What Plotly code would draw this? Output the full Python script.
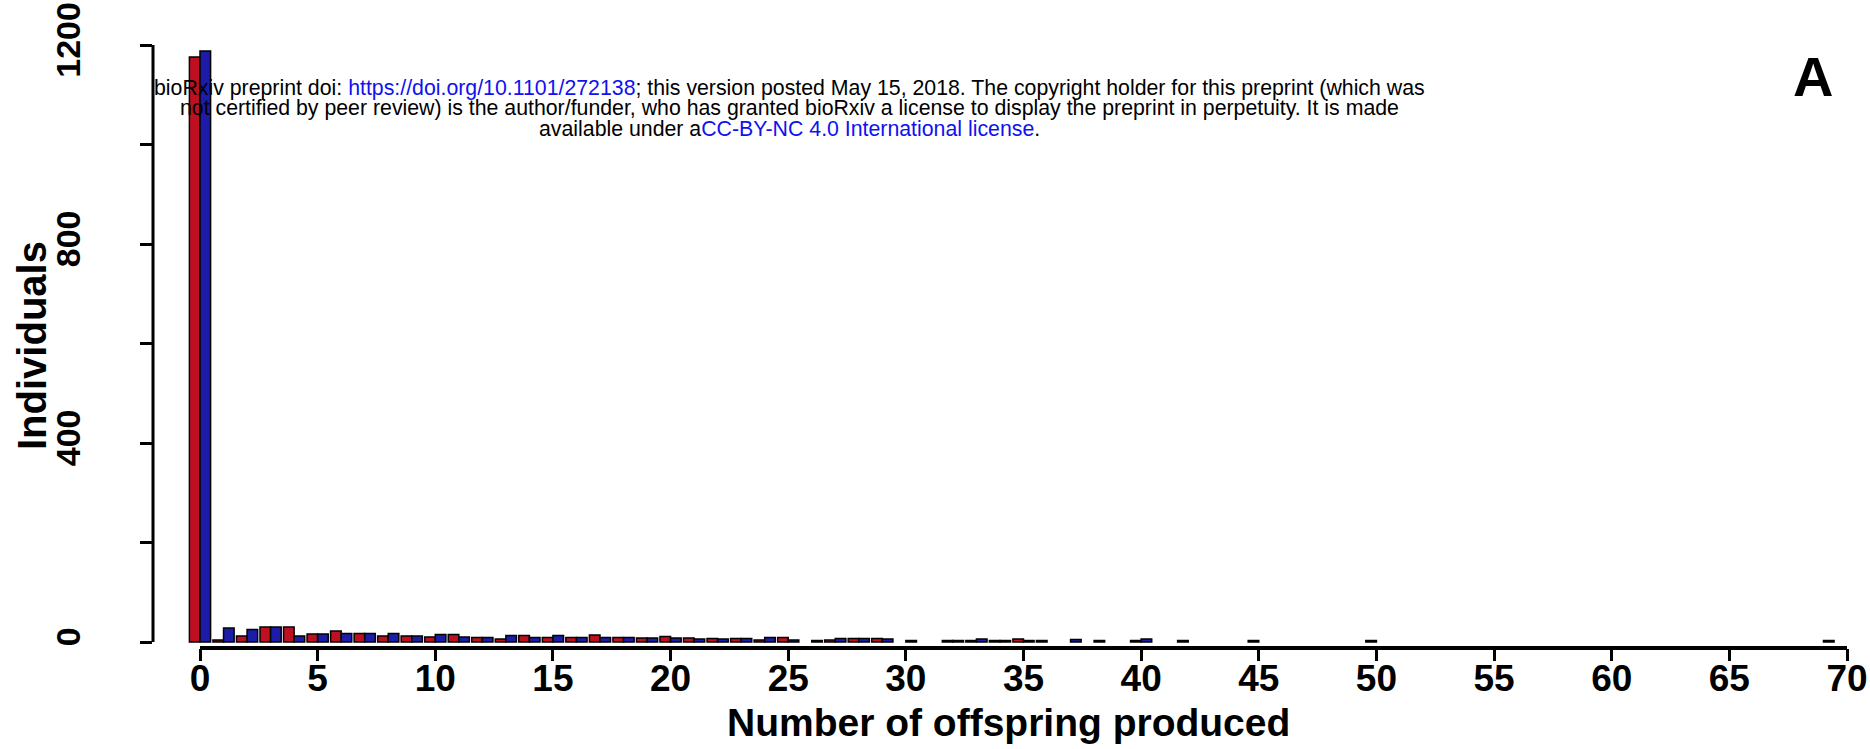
import plotly.graph_objects as go

# ---- data ----
offspring = list(range(71))
red_counts = [1176, 4, 12, 30, 30, 16, 22, 17, 12, 12,
              10, 15, 9, 6, 13, 9, 9, 14, 9, 8,
              11, 8, 7, 7, 4, 9, 0, 4, 7, 7,
              0, 0, 3, 3, 3, 6, 3, 0, 0, 0,
              3, 0, 3, 0, 0, 3, 0, 0, 0, 0,
              3, 0, 0, 0, 0, 0, 0, 0, 0, 0,
              0, 0, 0, 0, 0, 0, 0, 0, 0, 0, 0]
blue_counts = [1188, 28, 25, 30, 12, 16, 17, 17, 17, 12,
               15, 10, 9, 13, 9, 13, 9, 9, 9, 8,
               8, 6, 6, 7, 9, 4, 3, 7, 7, 6,
               3, 0, 3, 6, 3, 3, 0, 5, 3, 0,
               6, 0, 0, 0, 0, 0, 0, 0, 0, 0,
               0, 0, 0, 0, 0, 0, 0, 0, 0, 0,
               0, 0, 0, 0, 0, 0, 0, 0, 0, 3, 0]
x_tickvals = list(range(0, 71, 5))
y_tickvals = [0, 200, 400, 600, 800, 1000, 1200]
y_ticktext = ["0", "", "400", "", "800", "", "1200"]

RED = "#BE1020"
BLUE = "#1C1CA8"

# ---- geometry ----
W, H = 1870, 749
L, R_EDGE, T, B = 153, 1860, 42, 648
X0_PX, X70_PX = 200, 1847
ux = (X70_PX - X0_PX) / 70.0
Y0_PX, Y1200_PX = 642, 45
uy = (Y0_PX - Y1200_PX) / 1200.0
x_range = [(L - X0_PX) / ux, (R_EDGE - X0_PX) / ux]
y_range = [-(B - Y0_PX) / uy, 1200 + (Y1200_PX - T) / uy]

FONT = "Liberation Sans, Arial, Helvetica, sans-serif"


def px_x(p):
    return (p - L) / (R_EDGE - L)


def px_y(p):
    return (B - p) / (B - T)


def nz(v):
    return [c if c > 0 else None for c in v]


fig = go.Figure()
fig.add_trace(go.Bar(x=offspring, y=nz(red_counts), name="red",
                     marker=dict(color=RED, line=dict(color="black", width=1.5))))
fig.add_trace(go.Bar(x=offspring, y=nz(blue_counts), name="blue",
                     marker=dict(color=BLUE, line=dict(color="black", width=1.5))))

fig.update_layout(
    width=W, height=H,
    margin=dict(l=L, r=W - R_EDGE, t=T, b=H - B, pad=0, autoexpand=False),
    paper_bgcolor="white", plot_bgcolor="white",
    barmode="group", bargap=0.1, bargroupgap=0.0,
    showlegend=False,
    font=dict(family=FONT, color="black"),
)

fig.update_xaxes(
    automargin=False,
    range=x_range, tickmode="array", tickvals=x_tickvals,
    showgrid=False, zeroline=False, showline=False,
    ticks="outside", ticklen=12, tickwidth=3, tickcolor="black",
    ticklabeloverflow="allow", ticklabelstandoff=-14,
    tickfont=dict(family=FONT, size=37, weight="bold", color="black"),
)
fig.update_yaxes(
    automargin=False,
    range=y_range, tickmode="array", tickvals=y_tickvals, ticktext=y_ticktext,
    showgrid=False, zeroline=False, showline=False,
    ticks="outside", ticklen=12, tickwidth=3, tickcolor="black",
    tickangle=-90, ticklabelstandoff=46, ticklabeloverflow="allow",
    tickfont=dict(family=FONT, size=34, weight="bold", color="black"),
)

# R-style detached axis lines
fig.add_shape(type="line", xref="x", yref="paper", x0=0, x1=70, y0=0, y1=0,
              line=dict(color="black", width=4))
fig.add_shape(type="line", xref="paper", yref="y", x0=0, x1=0, y0=0, y1=1200,
              line=dict(color="black", width=3))

# axis titles
fig.add_annotation(text="Number of offspring produced", xref="paper", yref="paper",
                   x=px_x(1008), y=px_y(722), xanchor="center", yanchor="middle",
                   showarrow=False,
                   font=dict(family=FONT, size=39, weight="bold", color="black"))
fig.add_annotation(text="Individuals", xref="paper", yref="paper",
                   x=px_x(32), y=px_y(346), xanchor="center", yanchor="middle",
                   textangle=-90, showarrow=False,
                   font=dict(family=FONT, size=40, weight="bold", color="black"))

# panel letter
fig.add_annotation(text="A", xref="paper", yref="paper",
                   x=px_x(1813), y=px_y(76),
                   xanchor="center", yanchor="middle", showarrow=False,
                   font=dict(family=FONT, size=56, weight="bold", color="black"))

# bioRxiv watermark
LINK = "#1010F0"
wm_lines = [
    "bioRxiv preprint doi: <span style='color:%s'>https://doi.org/10.1101/272138</span>; this version posted May 15, 2018. The copyright holder for this preprint (which was" % LINK,
    "not certified by peer review) is the author/funder, who has granted bioRxiv a license to display the preprint in perpetuity. It is made",
    "available under a<span style='color:%s'>CC-BY-NC 4.0 International license</span>." % LINK,
]
wm_y = [88, 108, 129]
for txt, yp in zip(wm_lines, wm_y):
    fig.add_annotation(text=txt, xref="paper", yref="paper",
                       x=px_x(789), y=px_y(yp),
                       xanchor="center", yanchor="middle", showarrow=False,
                       font=dict(family=FONT, size=21.3, color="black"))

fig.write_html("out.html",
               config={"displayModeBar": False},
               post_script="document.body.style.margin='0px';document.body.style.overflow='hidden';")
